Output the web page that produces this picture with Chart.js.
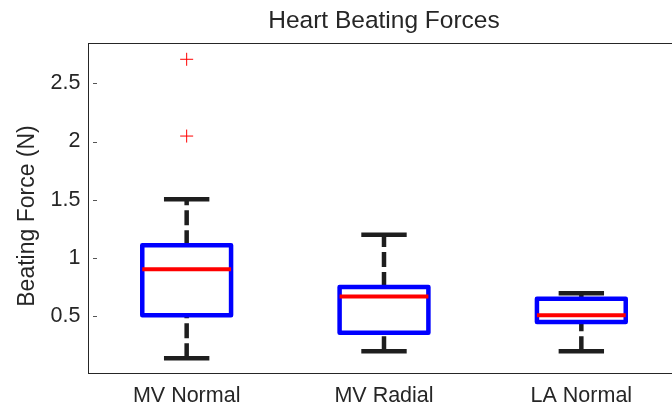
<!DOCTYPE html>
<html>
<head>
<meta charset="utf-8">
<script src="https://cdn.jsdelivr.net/npm/chart.js@4/dist/chart.umd.min.js"></script>
<style>
    html, body { margin: 0; padding: 0; background: #fff; overflow: hidden; }
    #wrap { width: 672px; height: 406px; overflow: hidden; }
</style>
</head>
<body>
<div id="wrap"><canvas id="chart" width="700" height="406"></canvas></div>
<script>
// Box plot statistics
const categories = ['MV Normal', 'MV Radial', 'LA Normal'];
const whiskerHigh = [1.504, 1.199, 0.695];
const upperQuartile = [1.108, 0.749, 0.648];
const medians = [0.901, 0.668, 0.506];
const lowerQuartile = [0.506, 0.356, 0.449];
const whiskerLow = [0.137, 0.197, 0.197];
const outliers = [[2.707, 2.047], [], []];
const yTicks = [0.5, 1, 1.5, 2, 2.5];

const FONT = '"Liberation Sans", Arial, sans-serif';
const BOX_HALF = 0.225;
const CAP_HALF = 0.115;

const outlierPoints = [];
outliers.forEach((list, i) => {
    list.forEach(v => outlierPoints.push({ x: i + 1, y: v }));
});

// Boxes, whiskers, frame, title and y label
const boxPlugin = {
    id: 'boxes',
    beforeDatasetsDraw: (chart) => {
        const ctx = chart.ctx;
        const xs = chart.scales.x;
        const ys = chart.scales.y;
        const area = chart.chartArea;

        ctx.save();
        ctx.beginPath();
        ctx.rect(area.left, area.top, area.right - area.left, area.bottom - area.top);
        ctx.clip();

        categories.forEach((name, i) => {
            const c = i + 1;
            const xc = xs.getPixelForValue(c);
            const xl = xs.getPixelForValue(c - BOX_HALF);
            const xr = xs.getPixelForValue(c + BOX_HALF);
            const cl = xs.getPixelForValue(c - CAP_HALF);
            const cr = xs.getPixelForValue(c + CAP_HALF);
            const yHi = ys.getPixelForValue(whiskerHigh[i]);
            const yQ3 = ys.getPixelForValue(upperQuartile[i]);
            const yMed = ys.getPixelForValue(medians[i]);
            const yQ1 = ys.getPixelForValue(lowerQuartile[i]);
            const yLo = ys.getPixelForValue(whiskerLow[i]);

            // dashed whiskers
            ctx.strokeStyle = '#1e1e1e';
            ctx.lineWidth = 4.5;
            ctx.lineCap = 'butt';
            ctx.setLineDash([15, 5]);
            ctx.beginPath();
            ctx.moveTo(xc, yQ3);
            ctx.lineTo(xc, yHi);
            ctx.stroke();
            ctx.beginPath();
            ctx.moveTo(xc, yLo);
            ctx.lineTo(xc, yQ1);
            ctx.stroke();
            ctx.setLineDash([]);

            // caps
            ctx.beginPath();
            ctx.moveTo(cl, yHi);
            ctx.lineTo(cr, yHi);
            ctx.moveTo(cl, yLo);
            ctx.lineTo(cr, yLo);
            ctx.stroke();

            // box
            ctx.strokeStyle = '#0000ff';
            ctx.lineJoin = 'round';
            ctx.lineWidth = 4.5;
            ctx.strokeRect(xl, yQ3, xr - xl, yQ1 - yQ3);

            // median
            ctx.strokeStyle = '#ff0000';
            ctx.lineWidth = 4;
            ctx.beginPath();
            ctx.moveTo(xl, yMed);
            ctx.lineTo(xr, yMed);
            ctx.stroke();
        });
        ctx.restore();
    },
    afterDraw: (chart) => {
        const ctx = chart.ctx;
        const area = chart.chartArea;
        const ys = chart.scales.y;

        ctx.save();
        // frame
        ctx.strokeStyle = '#262626';
        ctx.lineWidth = 1;
        ctx.strokeRect(Math.round(area.left) + 0.5, Math.round(area.top) + 0.5,
            Math.round(area.right - area.left), Math.round(area.bottom - area.top));

        // small inner tick marks
        ctx.strokeStyle = '#555';
        yTicks.forEach(v => {
            const y = Math.round(ys.getPixelForValue(v)) + 0.5;
            ctx.beginPath();
            ctx.moveTo(area.left + 5, y);
            ctx.lineTo(area.left + 9, y);
            ctx.stroke();
        });

        // title
        ctx.fillStyle = '#262626';
        ctx.font = '24.5px ' + FONT;
        ctx.textAlign = 'center';
        ctx.textBaseline = 'alphabetic';
        ctx.fillText('Heart Beating Forces', (area.left + area.right) / 2, 28);

        // y axis label
        ctx.font = '23px ' + FONT;
        ctx.translate(33.5, 216);
        ctx.rotate(-Math.PI / 2);
        ctx.fillText('Beating Force (N)', 0, 0);
        ctx.restore();
    }
};

new Chart(document.getElementById('chart'), {
    type: 'scatter',
    data: {
        datasets: [{
            label: 'Outliers',
            data: outlierPoints,
            pointStyle: 'cross',
            pointRadius: 6.5,
            borderColor: '#ff0000',
            borderWidth: 1,
            backgroundColor: '#ff0000'
        }]
    },
    options: {
        responsive: false,
        animation: false,
        devicePixelRatio: 1,
        layout: { padding: { top: 43, right: 20, bottom: 0, left: 0 } },
        plugins: {
            legend: { display: false },
            tooltip: { enabled: false },
            title: { display: false }
        },
        scales: {
            x: {
                type: 'linear',
                min: 0.5,
                max: 3.5,
                grid: { display: false, drawTicks: false },
                border: { display: false },
                afterBuildTicks: (scale) => {
                    scale.ticks = categories.map((c, i) => ({ value: i + 1 }));
                },
                afterFit: (scale) => { scale.height = 33; },
                ticks: {
                    autoSkip: false,
                    maxRotation: 0,
                    padding: 10,
                    color: '#262626',
                    font: { family: FONT, size: 21.5 },
                    callback: (v) => categories[v - 1] || ''
                }
            },
            y: {
                min: 0.01,
                max: 2.847,
                grid: { display: false, drawTicks: false },
                border: { display: false },
                afterBuildTicks: (scale) => {
                    scale.ticks = yTicks.map(v => ({ value: v }));
                },
                afterFit: (scale) => { scale.width = 88; },
                ticks: {
                    padding: 7.5,
                    color: '#262626',
                    font: { family: FONT, size: 21.5 },
                    callback: (v) => String(v)
                }
            }
        }
    },
    plugins: [boxPlugin]
});
</script>
</body>
</html>
